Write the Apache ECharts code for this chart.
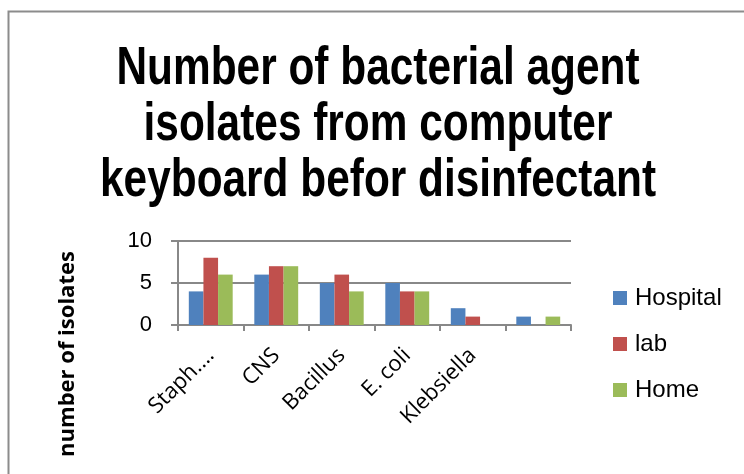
<!DOCTYPE html>
<html>
<head>
<meta charset="utf-8">
<script src="https://cdn.jsdelivr.net/npm/echarts@6/dist/echarts.min.js"></script>
<style>
html,body{margin:0;padding:0;background:#fff;}
#c{width:744px;height:474px;}
</style>
</head>
<body>
<div id="c"></div>
<script>
const categories = ['Staph....', 'CNS', 'Bacillus', 'E. coli', 'Klebsiella', ''];
const hospital = [4, 6, 5, 5, 2, 1];
const lab = [8, 7, 6, 4, 1, 0];
const home = [6, 7, 4, 4, 0, 1];
const yTicks = [0, 5, 10];
const titleText = 'Number of bacterial agent\nisolates from computer\nkeyboard befor disinfectant';

const chart = echarts.init(document.getElementById('c'));
const sans = '"Liberation Sans", Arial, sans-serif';
const calib = '"Open Sans", Lato, sans-serif';
chart.setOption({
  animation: false,
  backgroundColor: '#fff',
  graphic: [
    {
      type: 'rect', shape: {x: 8.5, y: 11.5, width: 760, height: 480},
      style: {fill: 'none', stroke: '#8c8c8c', lineWidth: 2}
    },
    {
      type: 'text', x: 378, y: 41, scaleX: 0.8,
      style: {text: titleText, textAlign: 'center', textVerticalAlign: 'top',
        font: 'bold 53px "Liberation Sans", Arial, sans-serif', lineHeight: 56, fill: '#000'}
    }
  ],
  legend: {
    orient: 'vertical', left: 608, top: 281, itemGap: 22,
    itemWidth: 14, itemHeight: 14, icon: 'rect',
    textStyle: {fontFamily: sans, fontSize: 24, color: '#000', padding: [0, 0, 0, 3]},
    data: ['Hospital', 'lab', 'Home']
  },
  grid: {left: 178, right: 173, top: 241, bottom: 149},
  xAxis: {
    type: 'category', data: categories,
    axisLine: {lineStyle: {color: '#888', width: 2}},
    axisTick: {show: true, length: 6, lineStyle: {color: '#888', width: 2}},
    axisLabel: {rotate: 45, interval: 0, margin: 27, fontFamily: calib, fontSize: 22, color: '#000'}
  },
  yAxis: {
    type: 'value', min: 0, max: 10, interval: 5,
    name: 'number of isolates', nameLocation: 'middle', nameGap: 99,
    nameTextStyle: {fontFamily: calib, fontWeight: 'bold', fontSize: 22, color: '#000', padding: [0, 142, 0, 0]},
    nameRotate: 90,
    axisLine: {show: true, lineStyle: {color: '#888', width: 2}},
    axisTick: {show: true, length: 7, lineStyle: {color: '#888', width: 2}},
    splitLine: {lineStyle: {color: '#888', width: 2}},
    axisLabel: {fontFamily: sans, fontSize: 22, color: '#000', margin: 26,
      formatter: v => yTicks.includes(v) ? String(v) : ''}
  },
  series: [
    {name: 'Hospital', type: 'bar', data: hospital, itemStyle: {color: '#4F81BD'}, barGap: '0%', barCategoryGap: '33%'},
    {name: 'lab', type: 'bar', data: lab, itemStyle: {color: '#C0504D'}},
    {name: 'Home', type: 'bar', data: home, itemStyle: {color: '#9BBB59'}}
  ]
});
</script>
</body>
</html>
